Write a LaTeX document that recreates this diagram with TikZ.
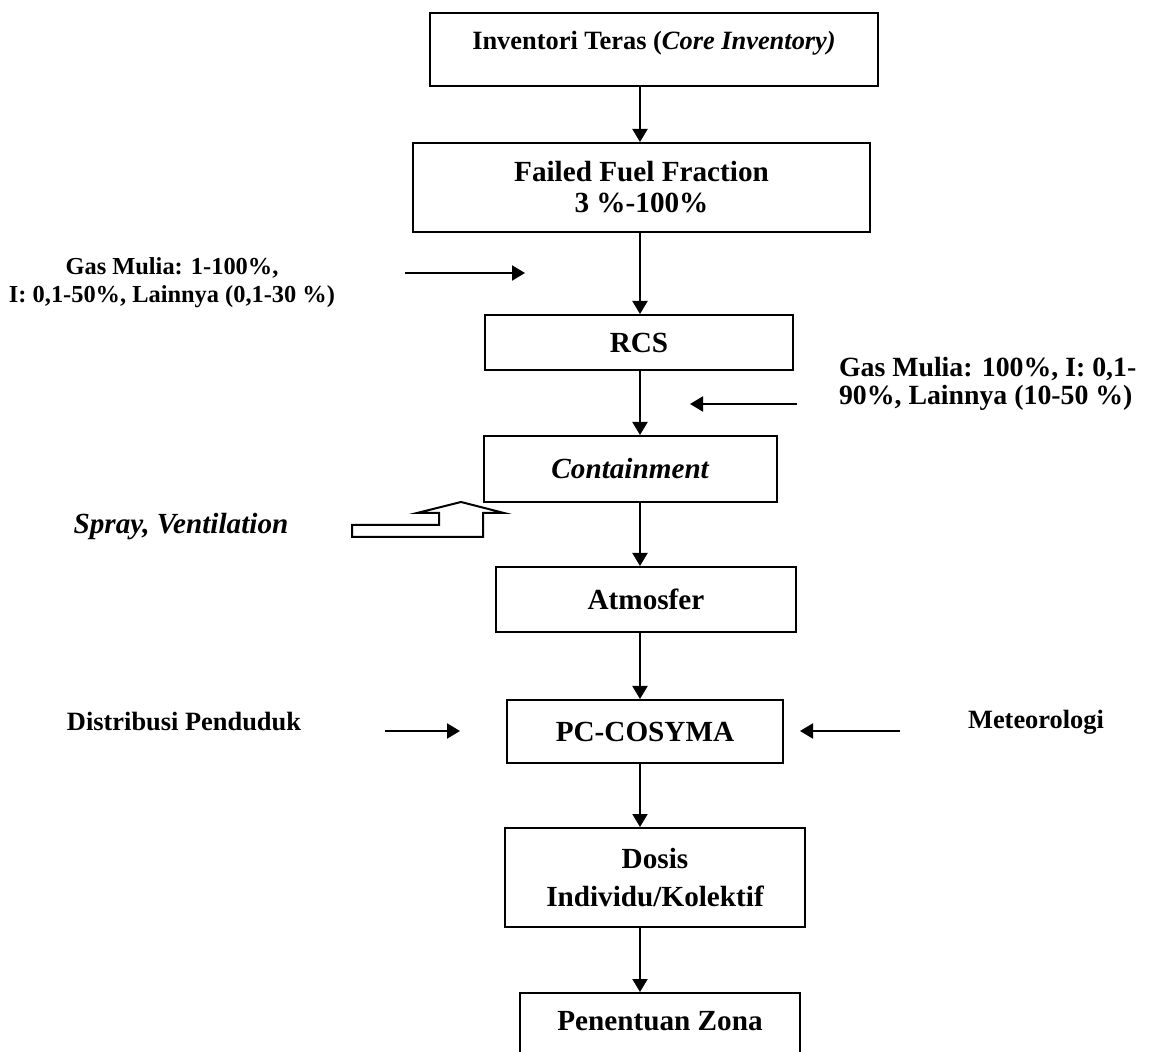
\documentclass[tikz,border=0pt]{standalone}
\usepackage{fontspec}
\setmainfont{Liberation Serif}
\usetikzlibrary{arrows.meta}
\newcommand{\bigtxt}{\fontsize{14.6}{16.5}\selectfont\bfseries}
\newcommand{\smalltxt}{\fontsize{13.2}{14}\selectfont\bfseries}

\begin{document}
\begin{tikzpicture}[
  x=0.5pt, y=-0.5pt, line width=1pt,
  >={Triangle[length=6.5pt, width=7.5pt]},
  box/.style={draw, line width=1pt, inner sep=0pt, align=center, font=\bigtxt},
  lab/.style={inner sep=0pt, align=center, font=\smalltxt}]
\useasboundingbox (0,0) rectangle (1151,1052);
% ---------------- boxes (pixel positions)
\node[box, font=\smalltxt, anchor=north, minimum width=224pt, text height=18.3pt, text depth=18.2pt] (core) at (654,12)
      {Inventori Teras (\textit{Core Inventory)}};
\node[box, font=\fontsize{14.6}{15.5}\selectfont\bfseries, minimum width=228.5pt, minimum height=44.5pt] (fuel) at (641.5,187.5)
      {Failed Fuel Fraction\\3 \%-100\%};
\node[box, minimum width=154pt, minimum height=27.5pt] (rcs) at (639,342.5) {RCS};
\node[box, minimum width=146.5pt, minimum height=33pt] (cont) at (630.5,469) {\textit{Containment}};
\node[box, minimum width=150pt, minimum height=32.5pt] (atm) at (646,599.5) {Atmosfer};
\node[box, minimum width=138pt, minimum height=31.5pt] (pc) at (645,731.5) {PC-COSYMA};
\node[box, font=\fontsize{14.6}{19}\selectfont\bfseries, minimum width=150pt, minimum height=49.5pt] (dosis) at (655,877.5)
      {Dosis\\Individu/Kolektif};
\node[box, anchor=north, minimum width=140pt, text height=18.8pt, text depth=25pt] (zona) at (660,992) {Penentuan Zona};
% ---------------- side texts
\node[lab, font=\fontsize{12.2}{14}\selectfont\bfseries] (gasl) at (172,283) {Gas Mulia: 1-100\%,\\I: 0,1-50\%, Lainnya (0,1-30 \%)};
\node[lab, align=left, anchor=west, font=\fontsize{13.9}{14}\selectfont\bfseries] (gasr) at (838,384)
      {Gas Mulia: 100\%, I: 0,1-\\90\%, Lainnya (10-50 \%)};
\node[lab, font=\bigtxt] (spray) at (181,527) {\textit{Spray, Ventilation}};
\node[lab] (dist) at (184,722) {Distribusi Penduduk};
\node[lab] (met) at (1036,722) {Meteorologi};
% ---------------- main flow
\coordinate (col) at (640,0);
\draw[->] (core.south -| col) -- (fuel.north -| col);
\draw[->] (fuel.south -| col) -- (rcs.north -| col);
\draw[->] (rcs.south -| col) -- (cont.north -| col);
\draw[->] (cont.south -| col) -- (atm.north -| col);
\draw[->] (atm.south -| col) -- (pc.north -| col);
\draw[->] (pc.south -| col) -- (dosis.north -| col);
\draw[->] (dosis.south -| col) -- (zona.north -| col);
% ---------------- side arrows
\coordinate (gl1) at (405,273); \coordinate (gl2) at (525,273);
\draw[->] (gl1) -- (gl2);
\coordinate (gr1) at (797,404); \coordinate (gr2) at (690,404);
\draw[->] (gr1) -- (gr2);
\coordinate (dl1) at (385,731); \coordinate (dl2) at (460,731);
\draw[->] (dl1) -- (dl2);
\coordinate (mr1) at (900,731); \coordinate (mr2) at (800,731);
\draw[->] (mr1) -- (mr2);
% hollow bent arrow
\draw (352,525) -- (439,525) -- (439,513) -- (417,513) -- (461,502) -- (504,513)
  -- (483,513) -- (483,537) -- (352,537) -- cycle;
\end{tikzpicture}
\end{document}
